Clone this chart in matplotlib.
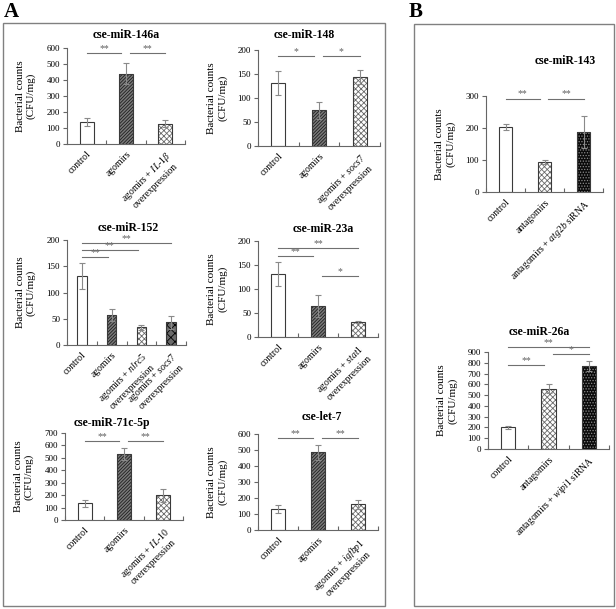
import numpy as np
import matplotlib
matplotlib.use("Agg")
import matplotlib.pyplot as plt
from matplotlib.patches import Rectangle

plt.rcParams['font.family'] = ['Liberation Serif', 'DejaVu Serif']
plt.rcParams['mathtext.fontset'] = 'custom'
plt.rcParams['mathtext.rm'] = 'Liberation Serif'
plt.rcParams['mathtext.it'] = 'Liberation Serif:italic'
plt.rcParams['mathtext.bf'] = 'Liberation Serif:bold'
plt.rcParams['hatch.linewidth'] = 0.6

W, H = 616, 609

# ---------------- data ----------------
titles = ["cse-miR-146a", "cse-miR-148", "cse-miR-152", "cse-miR-23a",
          "cse-miR-71c-5p", "cse-let-7", "cse-miR-143", "cse-miR-26a"]

labels_146a = ["control", "agomirs", "agomirs + $\\mathit{IL}$-$\\mathit{1\\beta}$\noverexpression"]
labels_148 = ["control", "agomirs", "agomirs + $\\mathit{socs7}$\noverexpression"]
labels_152 = ["control", "agomirs", "agomirs + $\\mathit{nlrc5}$\noverexpression",
              "agomirs + $\\mathit{socs7}$\noverexpression"]
labels_23a = ["control", "agomirs", "agomirs + $\\mathit{stat1}$\noverexpression"]
labels_71c = ["control", "agomirs", "agomirs + $\\mathit{IL}$-$\\mathit{10}$\noverexpression"]
labels_let7 = ["control", "agomirs", "agomirs + $\\mathit{igfbp1}$\noverexpression"]
labels_143 = ["control", "antagomirs", "antagomirs + $\\mathit{atg2b}$ siRNA"]
labels_26a = ["control", "antagomirs", "antagomirs + $\\mathit{wipi1}$ siRNA"]

vals_146a = [135, 440, 128];      errs_146a = [25, 65, 20]
vals_148 = [132, 74, 144];        errs_148 = [25, 18, 15]
vals_152 = [132, 57, 34, 43];     errs_152 = [25, 12, 5, 12]
vals_23a = [132, 65, 31];         errs_23a = [25, 23, 2]
vals_71c = [133, 533, 198];       errs_71c = [25, 50, 55]
vals_let7 = [132, 485, 160];      errs_let7 = [25, 45, 30]
vals_143 = [203, 93, 187];        errs_143 = [10, 7, 50]
vals_26a = [200, 560, 770];       errs_26a = [10, 40, 50]

yticks_146a = [0, 100, 200, 300, 400, 500, 600]
yticks_148 = [0, 50, 100, 150, 200]
yticks_152 = [0, 50, 100, 150, 200]
yticks_23a = [0, 50, 100, 150, 200]
yticks_71c = [0, 100, 200, 300, 400, 500, 600, 700]
yticks_let7 = [0, 100, 200, 300, 400, 500, 600]
yticks_143 = [0, 100, 200, 300]
yticks_26a = [0, 100, 200, 300, 400, 500, 600, 700, 800, 900]

# significance comparisons: (group i, group j, level, stars)
sig_146a = [(0, 1, 569, "**"), (1, 2, 569, "**")]
sig_148 = [(0, 1, 187, "*"), (1, 2, 187, "*")]
sig_152 = [(0, 1, 168, "**"), (0, 2, 181, "**"), (0, 3, 194, "**")]
sig_23a = [(0, 2, 185, "**"), (0, 1, 169, "**"), (1, 2, 127, "*")]
sig_71c = [(0, 1, 636, "**"), (1, 2, 636, "**")]
sig_let7 = [(0, 1, 575, "**"), (1, 2, 575, "**")]
sig_143 = [(0, 1, 292, "**"), (1, 2, 292, "**")]
sig_26a = [(0, 1, 779, "**"), (1, 2, 881, "*"), (0, 2, 946, "**")]

# bar styles
S_CTRL = dict(fc="white", hc="#333333", hatch=None)
S_AGO = dict(fc="#7a7a7a", hc="#1e1e1e", hatch="//////////")
S_OVER = dict(fc="white", hc="#6a6a6a", hatch="xxxxxx")
S_DARKCHK = dict(fc="#6a6a6a", hc="#000000", hatch="xxxx")
S_DOTS = dict(fc="#0a0a0a", hc="#8a8a8a", hatch="......")

fig = plt.figure(figsize=(W / 100, H / 100), dpi=100)


def fig_rect(l, t, r, b):
    return [l / W, 1 - b / H, (r - l) / W, (b - t) / H]


def panel(box, title, title_xy, labels, vals, errs, yticks, sigs, styles, width=0.35):
    ax = fig.add_axes(fig_rect(*box))
    n = len(vals)
    x = np.arange(n)
    for i in range(n):
        st = styles[i]
        ax.bar(x[i], vals[i], width, color=st["fc"], edgecolor=st["hc"],
               hatch=st["hatch"], linewidth=0, zorder=2)
        ax.bar(x[i], vals[i], width, fill=False, edgecolor="#3a3a3a",
               linewidth=0.8, zorder=3)
    ax.errorbar(x, vals, yerr=errs, fmt="none", ecolor="#8a8a8a",
                elinewidth=0.8, capsize=2.3, capthick=0.8, zorder=4)
    ax.set_xlim(-0.5, n - 0.5)
    ax.set_ylim(yticks[0], yticks[-1])
    ax.set_yticks(yticks)
    ax.set_yticklabels([str(t) for t in yticks], fontsize=6.5)
    ax.set_xticks(x)
    ax.set_xticklabels(labels, rotation=45, ha="right", rotation_mode="anchor",
                       fontsize=7, multialignment="center")
    ax.set_xticks(np.arange(n + 1) - 0.5, minor=True)
    ax.tick_params(axis="x", which="major", length=0, pad=4)
    ax.tick_params(axis="x", which="minor", direction="in", length=3,
                   color="#666666", width=0.8)
    ax.tick_params(axis="y", direction="out", length=3, color="#666666",
                   width=0.8, pad=2)
    for s in ["top", "right"]:
        ax.spines[s].set_visible(False)
    for s in ["left", "bottom"]:
        ax.spines[s].set_color("#666666")
        ax.spines[s].set_linewidth(0.8)
    ax.set_ylabel("Bacterial counts\n(CFU/mg)", fontsize=8)
    wpx = box[2] - box[0]
    ax.yaxis.set_label_coords(-31 / wpx, 0.5)
    for (i, j, lev, star) in sigs:
        x1 = i + (0.1 if i > 0 else 0.0)
        x2 = j - (0.12 if j < n - 1 else 0.0)
        ax.plot([x1, x2], [lev, lev], color="#707070", lw=0.8, clip_on=False,
                zorder=5)
        ax.text((x1 + x2) / 2, lev, star, ha="center", va="bottom",
                fontsize=7, color="#606060", clip_on=False)
    fig.text(title_xy[0] / W, 1 - title_xy[1] / H, title, ha="center",
             va="center", fontsize=8.5, fontweight="bold")
    return ax


panel((67, 48, 185, 144), titles[0], (126, 35), labels_146a, vals_146a, errs_146a,
      yticks_146a, sig_146a, [S_CTRL, S_AGO, S_OVER])
panel((258, 50, 380, 146), titles[1], (304, 35), labels_148, vals_148, errs_148,
      yticks_148, sig_148, [S_CTRL, S_AGO, S_OVER])
panel((67, 240, 186, 345), titles[2], (128, 228), labels_152, vals_152, errs_152,
      yticks_152, sig_152, [S_CTRL, S_AGO, S_OVER, S_DARKCHK], width=0.32)
panel((258, 241, 378, 337), titles[3], (323, 229), labels_23a, vals_23a, errs_23a,
      yticks_23a, sig_23a, [S_CTRL, S_AGO, S_OVER])
panel((65, 433, 183, 520), titles[4], (112, 423), labels_71c, vals_71c, errs_71c,
      yticks_71c, sig_71c, [S_CTRL, S_AGO, S_OVER])
panel((258, 434, 378, 530), titles[5], (322, 417), labels_let7, vals_let7, errs_let7,
      yticks_let7, sig_let7, [S_CTRL, S_AGO, S_OVER])
panel((486, 96, 603, 192), titles[6], (565, 61), labels_143, vals_143, errs_143,
      yticks_143, sig_143, [S_CTRL, S_OVER, S_DOTS])
panel((488, 352, 609, 449), titles[7], (539, 332), labels_26a, vals_26a, errs_26a,
      yticks_26a, sig_26a, [S_CTRL, S_OVER, S_DOTS])

# panel frames
for (l, t, r, b) in [(3, 23, 385, 606), (414, 24, 614, 606)]:
    fig.add_artist(Rectangle((l / W, 1 - b / H), (r - l) / W, (b - t) / H,
                             transform=fig.transFigure, fill=False,
                             edgecolor="#808080", linewidth=1.0))

fig.text(4 / W, 1 - 12 / H, "A", fontsize=15, fontweight="bold", ha="left", va="center")
fig.text(409 / W, 1 - 12 / H, "B", fontsize=15, fontweight="bold", ha="left", va="center")

fig.savefig("out.png", dpi=100)
